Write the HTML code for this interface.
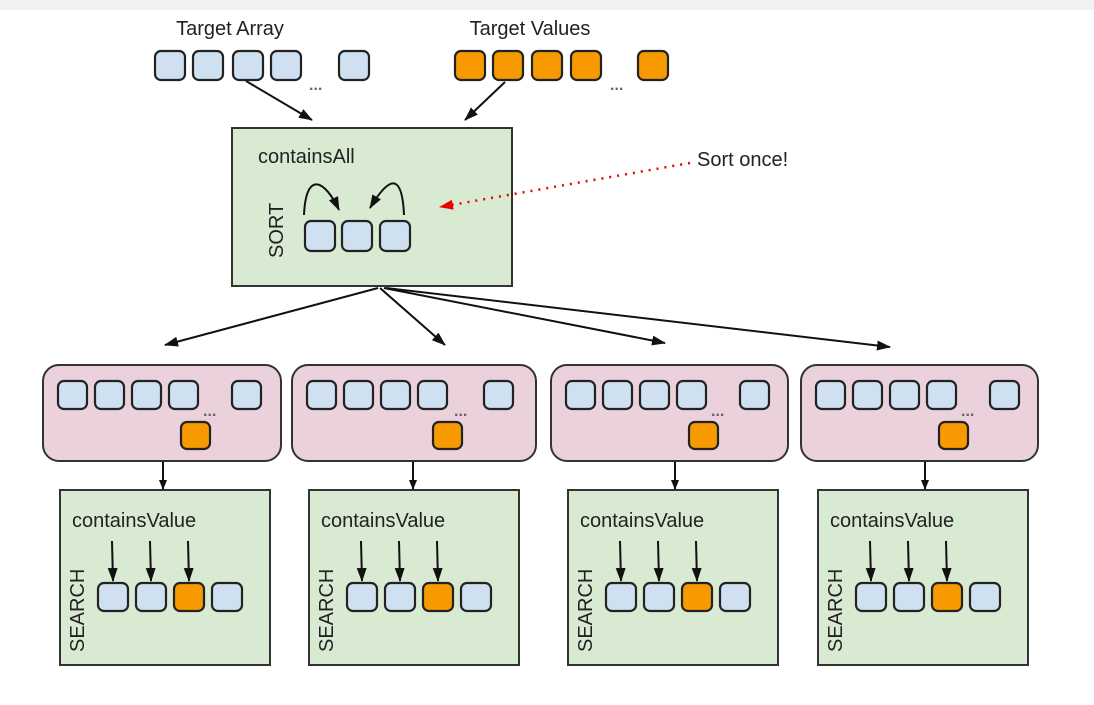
<!DOCTYPE html>
<html><head><meta charset="utf-8"><style>
html,body{margin:0;padding:0;background:#fff;}
svg{display:block;font-family:"Liberation Sans",sans-serif;}
.b{fill:#cfe0f1;stroke:#222;stroke-width:2.2;}
.o{fill:#f79a00;stroke:#222;stroke-width:2.2;}
.pk{fill:#ead1dc;stroke:#333;stroke-width:2;}
.gr{fill:#d9ead3;stroke:#333;stroke-width:2;}
.ln{stroke:#111;stroke-width:2;fill:none;}
.d{font-size:16px;font-weight:bold;fill:#666;}
</style></head><body>
<svg width="1094" height="705" viewBox="0 0 1094 705">
<defs>
<marker id="ah" markerWidth="10" markerHeight="8" refX="9" refY="4" orient="auto" markerUnits="userSpaceOnUse"><path d="M0,0 L10,4 L0,8 z" fill="#111"/></marker>
<marker id="ahs" markerWidth="14" markerHeight="10" refX="13" refY="5" orient="auto" markerUnits="userSpaceOnUse"><path d="M0,0 L14,5 L0,10 z" fill="#111"/></marker>
<marker id="ahr" markerWidth="14" markerHeight="10" refX="13" refY="5" orient="auto" markerUnits="userSpaceOnUse"><path d="M0,0 L14,5 L0,10 z" fill="#e00"/></marker>
</defs>
<rect x="0" y="0" width="1094" height="705" fill="#fff"/>
<rect x="0" y="0" width="1094" height="10" fill="#f2f2f2"/>
<text x="230" y="35" font-size="20" text-anchor="middle" fill="#222">Target Array</text>
<text x="530" y="35" font-size="20" text-anchor="middle" fill="#222">Target Values</text>
<rect class="b" x="155" y="51" width="30" height="29" rx="6"/>
<rect class="b" x="193" y="51" width="30" height="29" rx="6"/>
<rect class="b" x="233" y="51" width="30" height="29" rx="6"/>
<rect class="b" x="271" y="51" width="30" height="29" rx="6"/>
<rect class="b" x="339" y="51" width="30" height="29" rx="6"/>
<text x="309" y="90" class="d">...</text>
<rect class="o" x="455" y="51" width="30" height="29" rx="6"/>
<rect class="o" x="493" y="51" width="30" height="29" rx="6"/>
<rect class="o" x="532" y="51" width="30" height="29" rx="6"/>
<rect class="o" x="571" y="51" width="30" height="29" rx="6"/>
<rect class="o" x="638" y="51" width="30" height="29" rx="6"/>
<text x="610" y="90" class="d">...</text>
<line class="ln" x1="246" y1="81" x2="312" y2="120" marker-end="url(#ahs)"/>
<line class="ln" x1="505" y1="82" x2="465" y2="120" marker-end="url(#ahs)"/>
<rect class="gr" x="232" y="128" width="280" height="158"/>
<text x="258" y="163" font-size="20" fill="#222">containsAll</text>
<text transform="translate(283,258) rotate(-90)" font-size="20" fill="#222">SORT</text>
<rect class="b" x="305" y="221" width="30" height="30" rx="6"/>
<rect class="b" x="342" y="221" width="30" height="30" rx="6"/>
<rect class="b" x="380" y="221" width="30" height="30" rx="6"/>
<path class="ln" d="M304,215 C306,170 325,180 339,210" marker-end="url(#ahs)"/>
<path class="ln" d="M404,215 C402,170 388,178 370,208" marker-end="url(#ahs)"/>
<line x1="690" y1="163" x2="440" y2="207" stroke="#e00" stroke-width="2.5" stroke-dasharray="2,6" marker-end="url(#ahr)"/>
<text x="697" y="166" font-size="20" fill="#222">Sort once!</text>
<line class="ln" x1="378" y1="288" x2="165" y2="345" marker-end="url(#ahs)"/>
<line class="ln" x1="380" y1="288" x2="445" y2="345" marker-end="url(#ahs)"/>
<line class="ln" x1="384" y1="288" x2="665" y2="343" marker-end="url(#ahs)"/>
<line class="ln" x1="386" y1="288" x2="890" y2="347" marker-end="url(#ahs)"/>

<g transform="translate(43,0)">
<rect class="pk" x="0" y="365" width="238" height="96" rx="16"/>
<rect class="b" x="15" y="381" width="29" height="28" rx="6"/><rect class="b" x="52" y="381" width="29" height="28" rx="6"/><rect class="b" x="89" y="381" width="29" height="28" rx="6"/><rect class="b" x="126" y="381" width="29" height="28" rx="6"/><rect class="b" x="189" y="381" width="29" height="28" rx="6"/>
<text x="160" y="416" class="d">...</text>
<rect class="o" x="138" y="422" width="29" height="27" rx="6"/>
<line class="ln" x1="120" y1="462" x2="120" y2="489" marker-end="url(#ah)"/>
<rect class="gr" x="17" y="490" width="210" height="175"/>
<text x="29" y="527" font-size="20" fill="#222">containsValue</text>
<text transform="translate(41,652) rotate(-90)" font-size="20" fill="#222">SEARCH</text>
<rect class="b" x="55" y="583" width="30" height="28" rx="6"/><rect class="b" x="93" y="583" width="30" height="28" rx="6"/><rect class="o" x="131" y="583" width="30" height="28" rx="6"/><rect class="b" x="169" y="583" width="30" height="28" rx="6"/>
<line class="ln" x1="69" y1="541" x2="70" y2="581" marker-end="url(#ahs)"/><line class="ln" x1="107" y1="541" x2="108" y2="581" marker-end="url(#ahs)"/><line class="ln" x1="145" y1="541" x2="146" y2="581" marker-end="url(#ahs)"/>
</g>
<g transform="translate(292,0)">
<rect class="pk" x="0" y="365" width="244" height="96" rx="16"/>
<rect class="b" x="15" y="381" width="29" height="28" rx="6"/><rect class="b" x="52" y="381" width="29" height="28" rx="6"/><rect class="b" x="89" y="381" width="29" height="28" rx="6"/><rect class="b" x="126" y="381" width="29" height="28" rx="6"/><rect class="b" x="192" y="381" width="29" height="28" rx="6"/>
<text x="162" y="416" class="d">...</text>
<rect class="o" x="141" y="422" width="29" height="27" rx="6"/>
<line class="ln" x1="121" y1="462" x2="121" y2="489" marker-end="url(#ah)"/>
<rect class="gr" x="17" y="490" width="210" height="175"/>
<text x="29" y="527" font-size="20" fill="#222">containsValue</text>
<text transform="translate(41,652) rotate(-90)" font-size="20" fill="#222">SEARCH</text>
<rect class="b" x="55" y="583" width="30" height="28" rx="6"/><rect class="b" x="93" y="583" width="30" height="28" rx="6"/><rect class="o" x="131" y="583" width="30" height="28" rx="6"/><rect class="b" x="169" y="583" width="30" height="28" rx="6"/>
<line class="ln" x1="69" y1="541" x2="70" y2="581" marker-end="url(#ahs)"/><line class="ln" x1="107" y1="541" x2="108" y2="581" marker-end="url(#ahs)"/><line class="ln" x1="145" y1="541" x2="146" y2="581" marker-end="url(#ahs)"/>
</g>
<g transform="translate(551,0)">
<rect class="pk" x="0" y="365" width="237" height="96" rx="16"/>
<rect class="b" x="15" y="381" width="29" height="28" rx="6"/><rect class="b" x="52" y="381" width="29" height="28" rx="6"/><rect class="b" x="89" y="381" width="29" height="28" rx="6"/><rect class="b" x="126" y="381" width="29" height="28" rx="6"/><rect class="b" x="189" y="381" width="29" height="28" rx="6"/>
<text x="160" y="416" class="d">...</text>
<rect class="o" x="138" y="422" width="29" height="27" rx="6"/>
<line class="ln" x1="124" y1="462" x2="124" y2="489" marker-end="url(#ah)"/>
<rect class="gr" x="17" y="490" width="210" height="175"/>
<text x="29" y="527" font-size="20" fill="#222">containsValue</text>
<text transform="translate(41,652) rotate(-90)" font-size="20" fill="#222">SEARCH</text>
<rect class="b" x="55" y="583" width="30" height="28" rx="6"/><rect class="b" x="93" y="583" width="30" height="28" rx="6"/><rect class="o" x="131" y="583" width="30" height="28" rx="6"/><rect class="b" x="169" y="583" width="30" height="28" rx="6"/>
<line class="ln" x1="69" y1="541" x2="70" y2="581" marker-end="url(#ahs)"/><line class="ln" x1="107" y1="541" x2="108" y2="581" marker-end="url(#ahs)"/><line class="ln" x1="145" y1="541" x2="146" y2="581" marker-end="url(#ahs)"/>
</g>
<g transform="translate(801,0)">
<rect class="pk" x="0" y="365" width="237" height="96" rx="16"/>
<rect class="b" x="15" y="381" width="29" height="28" rx="6"/><rect class="b" x="52" y="381" width="29" height="28" rx="6"/><rect class="b" x="89" y="381" width="29" height="28" rx="6"/><rect class="b" x="126" y="381" width="29" height="28" rx="6"/><rect class="b" x="189" y="381" width="29" height="28" rx="6"/>
<text x="160" y="416" class="d">...</text>
<rect class="o" x="138" y="422" width="29" height="27" rx="6"/>
<line class="ln" x1="124" y1="462" x2="124" y2="489" marker-end="url(#ah)"/>
<rect class="gr" x="17" y="490" width="210" height="175"/>
<text x="29" y="527" font-size="20" fill="#222">containsValue</text>
<text transform="translate(41,652) rotate(-90)" font-size="20" fill="#222">SEARCH</text>
<rect class="b" x="55" y="583" width="30" height="28" rx="6"/><rect class="b" x="93" y="583" width="30" height="28" rx="6"/><rect class="o" x="131" y="583" width="30" height="28" rx="6"/><rect class="b" x="169" y="583" width="30" height="28" rx="6"/>
<line class="ln" x1="69" y1="541" x2="70" y2="581" marker-end="url(#ahs)"/><line class="ln" x1="107" y1="541" x2="108" y2="581" marker-end="url(#ahs)"/><line class="ln" x1="145" y1="541" x2="146" y2="581" marker-end="url(#ahs)"/>
</g>
</svg>
</body></html>
